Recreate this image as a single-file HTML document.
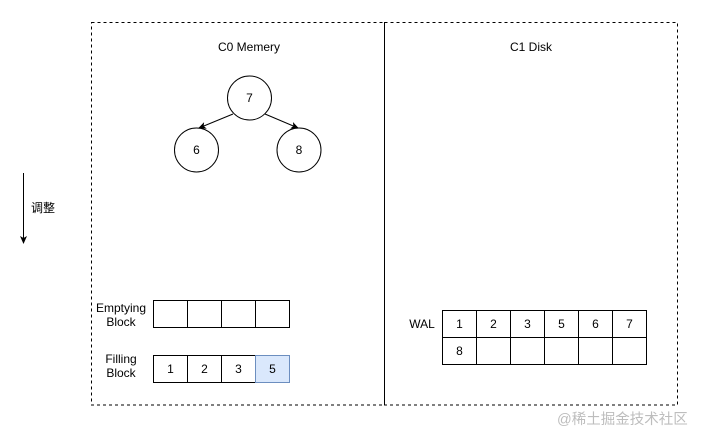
<!DOCTYPE html>
<html><head><meta charset="utf-8"><style>
html,body{margin:0;padding:0;background:#fff;}
svg{display:block;}
text{font-family:"Liberation Sans","Noto Sans CJK SC",sans-serif;font-size:12px;fill:#000;}
</style></head><body>
<svg width="702" height="442" viewBox="0 0 702 442" xmlns="http://www.w3.org/2000/svg">
<defs>
<marker id="ah" markerWidth="8" markerHeight="8" refX="7" refY="4" orient="auto" markerUnits="userSpaceOnUse">
<path d="M0,0.5 L8,4 L0,7.5 L2,4 Z" fill="#000"/>
</marker>
</defs>
<!-- dashed containers -->
<rect x="91.5" y="22.5" width="293" height="382.5" fill="none" stroke="#000" stroke-dasharray="3 3"/>
<rect x="384.5" y="22.5" width="293" height="382.5" fill="none" stroke="#000" stroke-dasharray="3 3"/>
<text x="249" y="51" text-anchor="middle">C0 Memery</text>
<text x="531" y="51" text-anchor="middle">C1 Disk</text>

<!-- tree -->
<line x1="233" y1="114" x2="199" y2="128" stroke="#000" marker-end="url(#ah)"/>
<line x1="265" y1="114" x2="298" y2="128" stroke="#000" marker-end="url(#ah)"/>
<circle cx="249.5" cy="98" r="22" fill="#fff" stroke="#000"/>
<circle cx="196.5" cy="150" r="22" fill="#fff" stroke="#000"/>
<circle cx="299" cy="150" r="22" fill="#fff" stroke="#000"/>
<text x="249.5" y="102" text-anchor="middle">7</text>
<text x="196.5" y="154" text-anchor="middle">6</text>
<text x="299" y="154" text-anchor="middle">8</text>

<!-- left arrow -->
<line x1="23.5" y1="173" x2="23.5" y2="243" stroke="#000" marker-end="url(#ah)"/>
<text x="31" y="212">调整</text>

<!-- Emptying block -->
<text x="121" y="312" text-anchor="middle">Emptying</text>
<text x="121" y="326" text-anchor="middle">Block</text>
<g fill="#fff" stroke="#000">
<rect x="153.5" y="300.5" width="34" height="27"/>
<rect x="187.5" y="300.5" width="34" height="27"/>
<rect x="221.5" y="300.5" width="34" height="27"/>
<rect x="255.5" y="300.5" width="34" height="27"/>
</g>

<!-- Filling block -->
<text x="121" y="363" text-anchor="middle">Filling</text>
<text x="121" y="377" text-anchor="middle">Block</text>
<g fill="#fff" stroke="#000">
<rect x="153.5" y="355.5" width="34" height="27"/>
<rect x="187.5" y="355.5" width="34" height="27"/>
<rect x="221.5" y="355.5" width="34" height="27"/>
</g>
<rect x="255.5" y="355.5" width="34" height="27" fill="#dae8fc" stroke="#6c8ebf"/>
<text x="170.5" y="373" text-anchor="middle">1</text>
<text x="204.5" y="373" text-anchor="middle">2</text>
<text x="238.5" y="373" text-anchor="middle">3</text>
<text x="272.5" y="373" text-anchor="middle">5</text>

<!-- WAL -->
<text x="422" y="328" text-anchor="middle">WAL</text>
<g fill="#fff" stroke="#000">
<rect x="442.5" y="310.5" width="34" height="27"/>
<rect x="476.5" y="310.5" width="34" height="27"/>
<rect x="510.5" y="310.5" width="34" height="27"/>
<rect x="544.5" y="310.5" width="34" height="27"/>
<rect x="578.5" y="310.5" width="34" height="27"/>
<rect x="612.5" y="310.5" width="34" height="27"/>
<rect x="442.5" y="337.5" width="34" height="27"/>
<rect x="476.5" y="337.5" width="34" height="27"/>
<rect x="510.5" y="337.5" width="34" height="27"/>
<rect x="544.5" y="337.5" width="34" height="27"/>
<rect x="578.5" y="337.5" width="34" height="27"/>
<rect x="612.5" y="337.5" width="34" height="27"/>
</g>
<text x="459.5" y="328" text-anchor="middle">1</text>
<text x="493.5" y="328" text-anchor="middle">2</text>
<text x="527.5" y="328" text-anchor="middle">3</text>
<text x="561.5" y="328" text-anchor="middle">5</text>
<text x="595.5" y="328" text-anchor="middle">6</text>
<text x="629.5" y="328" text-anchor="middle">7</text>
<text x="459.5" y="355" text-anchor="middle">8</text>

<!-- watermark -->
<text x="557" y="424" style="font-size:14.5px;fill:#bdbdbd;">@稀土掘金技术社区</text>
</svg>
</body></html>
